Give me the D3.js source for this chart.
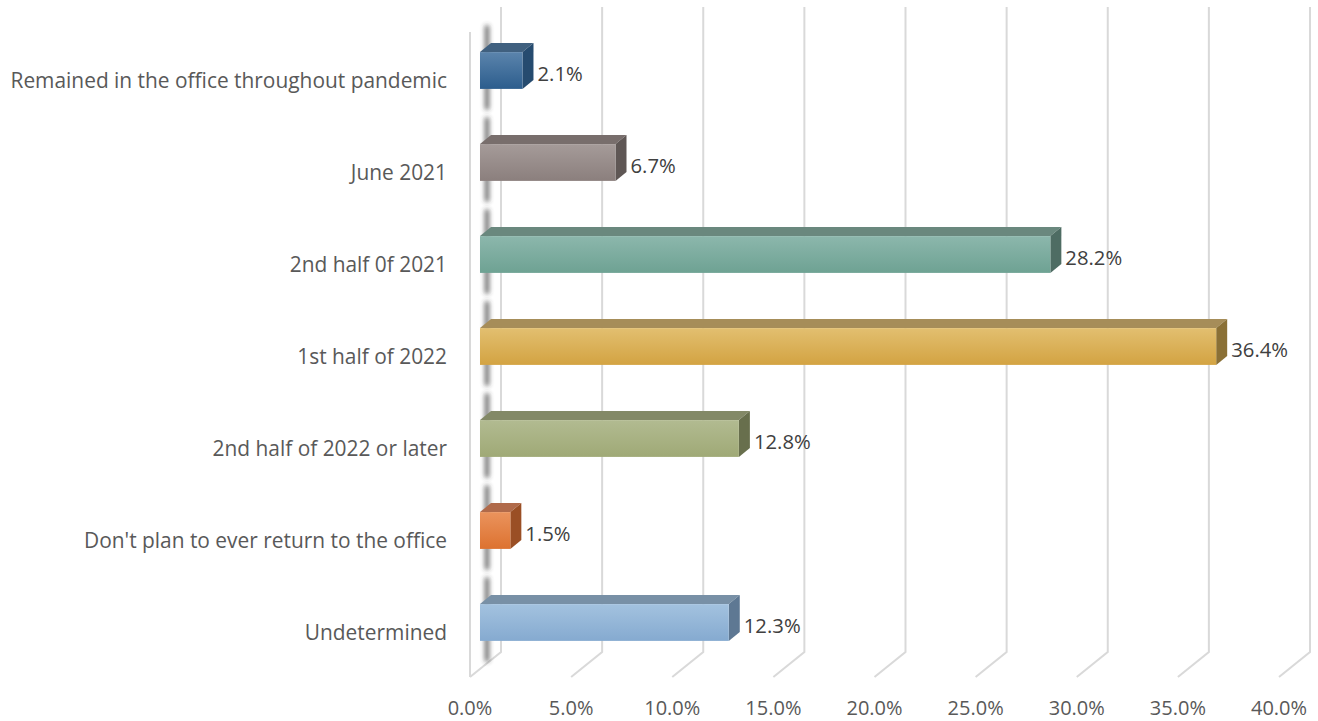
<!DOCTYPE html>
<html><head><meta charset="utf-8">
<script src="https://cdn.jsdelivr.net/npm/d3@7"></script>
<style>body{margin:0;background:#fff}svg{display:block}text{font-family:"Open Sans",sans-serif}</style>
</head><body><svg id="c" width="1318" height="721"></svg>
<script>
const categories = ["Remained in the office throughout pandemic","June 2021","2nd half 0f 2021","1st half of 2022","2nd half of 2022 or later","Don't plan to ever return to the office","Undetermined"];
const values = [2.1, 6.7, 28.2, 36.4, 12.8, 1.5, 12.3];
const ticks = [0,5,10,15,20,25,30,35,40];
const frontColors = [["#5b84ac","#2c5d8d"],["#a59b99","#8b7f7d"],["#8cb7ac","#6ea293"],["#e2bf70","#d3a342"],["#b2bb91","#9fa976"],["#ea935d","#dd7230"],["#a3c2df","#85aad0"]];
const topColors = ["#40607f","#786e6c","#6a887e","#a68d59","#838967","#b06a4a","#7890a6"];
const sideColors = ["#264b6f","#5f5755","#4e6c63","#8a7036","#686f4d","#9a4f25","#5e7893"];

const svg = d3.select("#c");
const x = d3.scaleLinear().domain([0,40]).range([480, 1289]);
const depth = {dx: 31, dy: -25};
const barDepth = {dx: 11, dy: -9};
const xBack = v => x(v) + 21;
const y = d3.scaleBand().domain(categories).range([24.5, 668.5]);
const barH = y.step()*0.4;
const backTop = 7, backBottom = 652, frontBottom = 677;

const defs = svg.append("defs");
frontColors.forEach((c,i)=>{
  const g = defs.append("linearGradient").attr("id","g"+i).attr("x1",0).attr("y1",0).attr("x2",0).attr("y2",1);
  g.append("stop").attr("offset","0%").attr("stop-color",c[0]);
  g.append("stop").attr("offset","100%").attr("stop-color",c[1]);
});
defs.append("filter").attr("id","blur").attr("x","-3").attr("y","-1").attr("width","7").attr("height","3")
  .append("feGaussianBlur").attr("stdDeviation","2.6");

const grid = svg.append("g").attr("stroke","#d9d9d9").attr("stroke-width",2).attr("fill","none");
grid.append("line").attr("x1",x(0)-10).attr("x2",x(0)-10).attr("y1",32).attr("y2",frontBottom);
ticks.forEach(t=>{
  const bx = xBack(t);
  grid.append("path").attr("d",`M${bx},${backTop}V${backBottom}L${bx-depth.dx},${frontBottom}`);
});

// shadows
svg.append("g").selectAll("rect").data(categories).join("rect")
  .attr("x", x(0)+5).attr("width",4)
  .attr("y", d=> y(d)+y.step()/2-barH/2-27)
  .attr("height", barH+48)
  .attr("rx",2)
  .attr("fill","#333").attr("filter","url(#blur)").attr("opacity",0.8);

// bars
const bars = svg.append("g").selectAll("g").data(categories).join("g");
bars.each(function(d,i){
  const g = d3.select(this);
  const x0 = x(0), x1 = x(values[i]);
  const y0 = y(d)+y.step()/2-barH/2, y1 = y0+barH;
  const {dx,dy} = barDepth;
  g.append("path").attr("d",`M${x0},${y0}L${x0+dx},${y0+dy}L${x1+dx},${y0+dy}L${x1},${y0}Z`).attr("fill",topColors[i]);
  g.append("path").attr("d",`M${x1},${y0}L${x1+dx},${y0+dy}L${x1+dx},${y1+dy}L${x1},${y1}Z`).attr("fill",sideColors[i]);
  g.append("rect").attr("x",x0).attr("y",y0).attr("width",x1-x0).attr("height",barH).attr("fill",`url(#g${i})`);
  g.append("text").attr("x",x1+dx+4).attr("y",(y0+y1)/2+2.5).attr("dominant-baseline","central")
    .attr("font-size",20.3).attr("fill","#404040").text(values[i].toFixed(1)+"%");
});

// category labels
svg.append("g").selectAll("text").data(categories).join("text")
  .attr("x",447).attr("y",d=>y(d)+y.step()/2+9.5).attr("text-anchor","end").attr("dominant-baseline","central")
  .attr("font-size",20.9).attr("fill","#595959").text(d=>d);

// x tick labels
svg.append("g").selectAll("text").data(ticks).join("text")
  .attr("x",t=>xBack(t)-depth.dx).attr("y",707).attr("text-anchor","middle").attr("dominant-baseline","central")
  .attr("font-size",20).attr("fill","#595959").text(t=>t.toFixed(1)+"%");
</script></body></html>
